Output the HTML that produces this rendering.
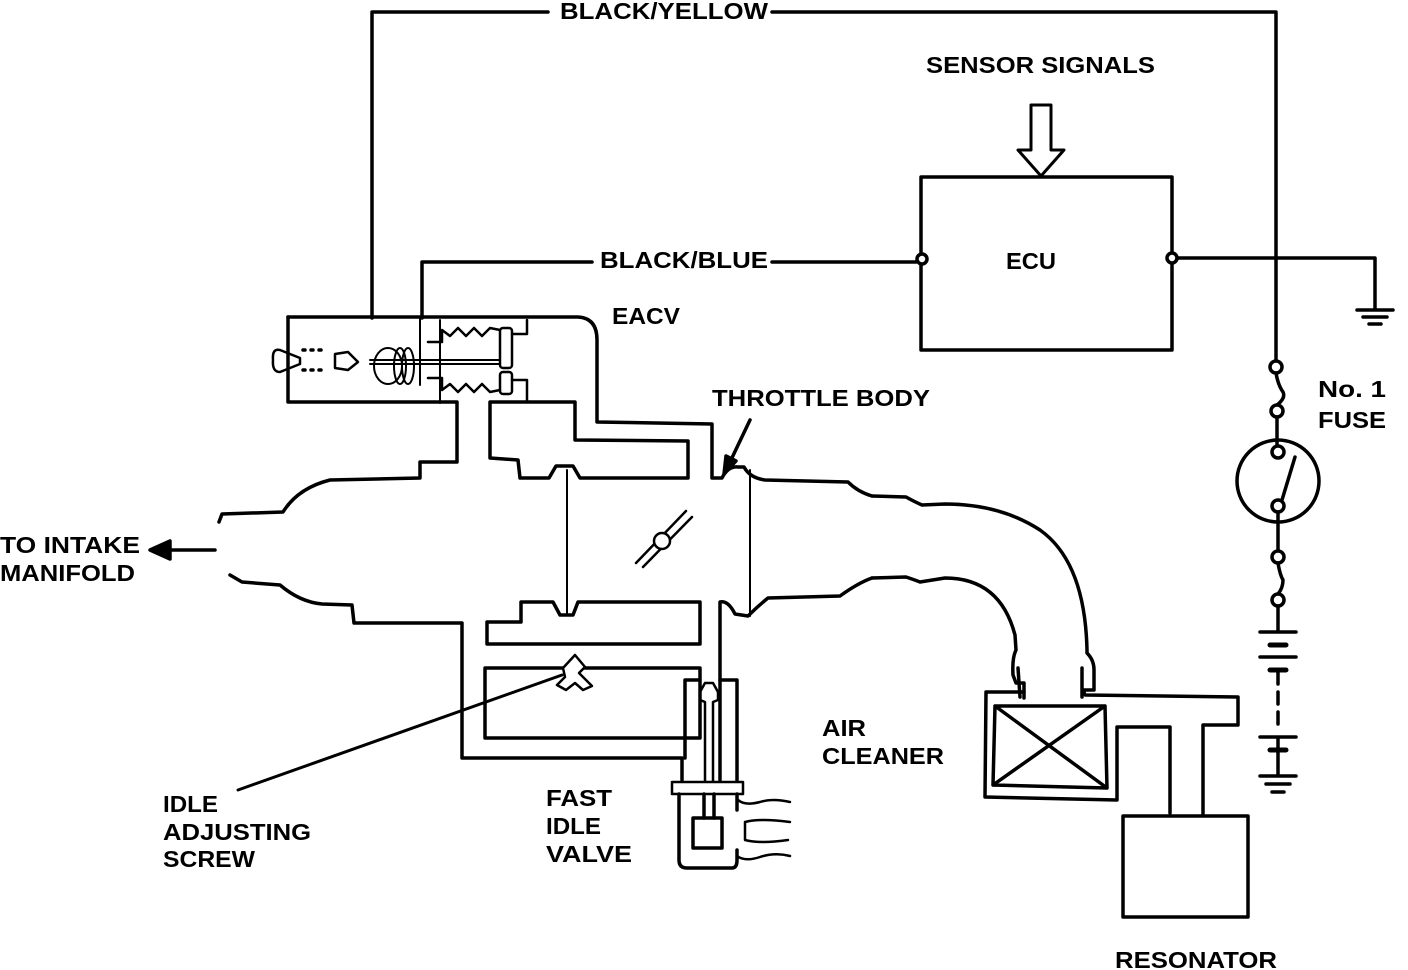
<!DOCTYPE html>
<html><head><style>
html,body{margin:0;padding:0;background:#fff;}
svg{display:block;}
text{font-family:"Liberation Sans",sans-serif;font-weight:bold;font-size:23px;fill:#000;}
</style></head><body>
<svg width="1408" height="970" viewBox="0 0 1408 970" xmlns="http://www.w3.org/2000/svg">
<g fill="none" stroke="#000" stroke-width="3.5" stroke-linejoin="round" stroke-linecap="round">
<path d="M372,318 L372,12 L548,12 M772,12 L1276,12 L1276,360"/>
<path d="M422,318 L422,262 L592,262 M772,262 L916,262"/>
<rect x="921" y="177" width="251" height="173"/>
<circle cx="922" cy="259" r="5" fill="#fff"/>
<circle cx="1172" cy="258" r="5" fill="#fff"/>
<path d="M1177,258 L1375,258 L1375,310 M1357,310 L1393,310 M1363,317 L1387,317 M1369,324 L1381,324"/>
<path d="M1031,105 L1051,105 L1051,150 L1064,150 L1041,176 L1018,150 L1031,150 Z" stroke-width="3"/>
<circle cx="1276" cy="367" r="6" fill="#fff"/>
<path d="M1276,373 Q1278,385 1283,392 Q1286,398 1277,405" />
<circle cx="1277" cy="411" r="6" fill="#fff"/>
<path d="M1277,417 L1277,446"/>
<circle cx="1278" cy="481" r="41"/>
<circle cx="1278" cy="452" r="6" fill="#fff"/>
<circle cx="1278" cy="506" r="6" fill="#fff"/>
<path d="M1282,500 L1295,457 M1278,512 L1278,551"/>
<circle cx="1278" cy="557" r="6" fill="#fff"/>
<path d="M1278,563 Q1280,575 1283,580 Q1283,588 1278,594"/>
<circle cx="1278" cy="600" r="6" fill="#fff"/>
<path d="M1278,606 L1278,632 M1260,632 L1296,632 M1260,657 L1296,657 M1260,737 L1296,737 M1278,737 L1278,776 M1260,776 L1296,776 M1266,784 L1290,784 M1272,792 L1284,792"/>
<path d="M1270,645 L1286,645 M1270,670 L1286,670 M1270,750 L1286,750" stroke-width="5"/>
<path d="M1278,672 L1278,730" stroke-dasharray="12,8"/>
<path d="M288,317 L578,317 Q597,318 597,340 L597,422 L712,424 L712,478 L722,478 Q728,466 738,467 L744,467 Q750,478 765,480 L848,482 Q858,492 872,496"/>
<path d="M288,317 L288,402 L457,402 L457,462 L420,462 L420,478 L330,480 Q298,488 283,512 L222,514 L219,522" />
<path d="M490,402 L575,402 L575,440 L688,441 L688,478 L580,478 L573,466 L556,466 L549,478 L520,478 L518,460 L490,458 Z"/>
<path d="M280,350 Q272,348 273,360 Q272,372 280,372 L290,368 L300,364 L300,358 L290,354 Z" stroke-width="2.5"/>
<path d="M303,350 L325,350 M303,370 L325,370" stroke-dasharray="2,6"/>
<path d="M335,354 L348,352 L358,362 L348,370 L335,368 Z" stroke-width="2.5"/>
<path d="M370,360 L500,360 M370,364 L500,364" stroke-width="2"/>
<ellipse cx="388" cy="366" rx="14" ry="18" stroke-width="2"/>
<ellipse cx="400" cy="366" rx="6" ry="18" stroke-width="2"/>
<ellipse cx="408" cy="366" rx="6" ry="18" stroke-width="2"/>
<path d="M420,318 L420,385 M440,320 L440,403" stroke-width="2"/>
<path d="M428,342 L442,342 L442,330 L450,336 L458,328 L466,336 L474,328 L482,336 L490,328 L500,330" stroke-width="2.5"/>
<path d="M428,378 L442,378 L442,390 L450,384 L458,392 L466,384 L474,392 L482,384 L490,392 L500,390" stroke-width="2.5"/>
<rect x="500" y="328" width="12" height="40" rx="3" stroke-width="2.5"/>
<rect x="500" y="372" width="12" height="22" rx="3" stroke-width="2.5"/>
<path d="M512,334 L527,334 L527,320 M512,380 L527,380 L527,402" stroke-width="2.5"/>
<path d="M567,470 L567,615 M750,470 L750,616" stroke-width="2"/>
<path d="M636,563 L686,511 M643,567 L692,517" stroke-width="2.5"/>
<circle cx="662" cy="541" r="8" fill="#fff" stroke-width="2.5"/>
<path d="M230,575 L242,582 L280,585 Q300,602 322,604 L352,605 L354,623 L462,623 L462,758 L682,758 L682,780"/>
<path d="M487,622 L487,644 L700,644 L700,602 L578,602 L573,615 L560,615 L553,602 L521,602 L521,622 Z"/>
<path d="M485,668 L700,668 L700,680 M485,668 L485,738 L700,738 L700,680 L685,680 L685,758"/>
<path d="M720,780 L720,602 Q728,600 735,614 L748,616 Q758,606 768,598 L840,596 Q858,583 872,578"/>
<path d="M720,680 L737,680 L737,780"/>
<path d="M705,781 L705,702 L700,700 L700,692 L705,683 L713,683 L718,692 L718,700 L713,702 L713,781" stroke-width="2.5"/>
<rect x="672" y="782" width="71" height="12" stroke-width="2.5"/>
<path d="M679,794 L679,860 Q679,868 687,868 L732,868 Q737,868 737,860 L737,850 M737,810 L737,794 M704,794 L704,818 M714,794 L714,818"/>
<rect x="693" y="818" width="29" height="30"/>
<path d="M738,800 Q745,806 760,802 Q772,798 790,802 M745,822 Q760,818 790,822 M745,822 L745,840 Q760,844 788,840 M737,856 Q745,862 760,857 Q775,852 790,856" stroke-width="2.5"/>
<path d="M575,655 L585,667 L579,673 L583,677 L592,686 L583,690 L575,683 L566,690 L557,685 L565,677 L563,668 Z" stroke-width="2.5" fill="#fff"/>
<path d="M238,790 L562,675" stroke-width="3"/>
<path d="M872,496 L906,497 Q915,502 922,505 L945,504 Q1000,504 1040,530 Q1085,562 1087,650 L1087,653 Q1094,660 1094,670 L1094,690 L1083,690 M872,578 L906,577 Q915,580 920,582 L945,578 Q1000,578 1015,635 L1016,650 Q1012,658 1013,675 L1016,683 L1024,683 L1024,698"/>
<path d="M1018,668 L1020,697 M1082,668 L1082,697"/>
<path d="M1024,692 L986,692 L985,797 L1117,800 L1117,727 L1170,727 L1170,813 M1084,692 L1085,695 L1238,697 L1238,725 L1203,725 L1203,815"/>
<path d="M995,706 L1105,706 L1107,788 L993,785 Z M995,706 L1107,788 M1105,706 L993,785"/>
<rect x="1123" y="816" width="125" height="101"/>
<path d="M215,550 L165,550"/>
<path d="M150,550 L170,541 L170,559 Z" fill="#000"/>
<path d="M750,420 L730,462"/>
<path d="M724,474 L726,456 L736,461 Z" fill="#000"/>
</g>
<g>
<text x="560" y="19" textLength="208" lengthAdjust="spacingAndGlyphs">BLACK/YELLOW</text>
<text x="926" y="73" textLength="229" lengthAdjust="spacingAndGlyphs">SENSOR SIGNALS</text>
<text x="600" y="268" textLength="168" lengthAdjust="spacingAndGlyphs">BLACK/BLUE</text>
<text x="1006" y="269" textLength="50" lengthAdjust="spacingAndGlyphs">ECU</text>
<text x="612" y="324" textLength="68" lengthAdjust="spacingAndGlyphs">EACV</text>
<text x="712" y="406" textLength="218" lengthAdjust="spacingAndGlyphs">THROTTLE BODY</text>
<text x="1318" y="397" textLength="68" lengthAdjust="spacingAndGlyphs">No. 1</text>
<text x="1318" y="428" textLength="68" lengthAdjust="spacingAndGlyphs">FUSE</text>
<text x="0" y="553" textLength="140" lengthAdjust="spacingAndGlyphs">TO INTAKE</text>
<text x="0" y="581" textLength="135" lengthAdjust="spacingAndGlyphs">MANIFOLD</text>
<text x="822" y="736" textLength="44" lengthAdjust="spacingAndGlyphs">AIR</text>
<text x="822" y="764" textLength="122" lengthAdjust="spacingAndGlyphs">CLEANER</text>
<text x="163" y="812" textLength="55" lengthAdjust="spacingAndGlyphs">IDLE</text>
<text x="163" y="840" textLength="148" lengthAdjust="spacingAndGlyphs">ADJUSTING</text>
<text x="163" y="867" textLength="92" lengthAdjust="spacingAndGlyphs">SCREW</text>
<text x="546" y="806" textLength="66" lengthAdjust="spacingAndGlyphs">FAST</text>
<text x="546" y="834" textLength="55" lengthAdjust="spacingAndGlyphs">IDLE</text>
<text x="546" y="862" textLength="86" lengthAdjust="spacingAndGlyphs">VALVE</text>
<text x="1115" y="968" textLength="162" lengthAdjust="spacingAndGlyphs">RESONATOR</text>
</g>
</svg>
</body></html>
